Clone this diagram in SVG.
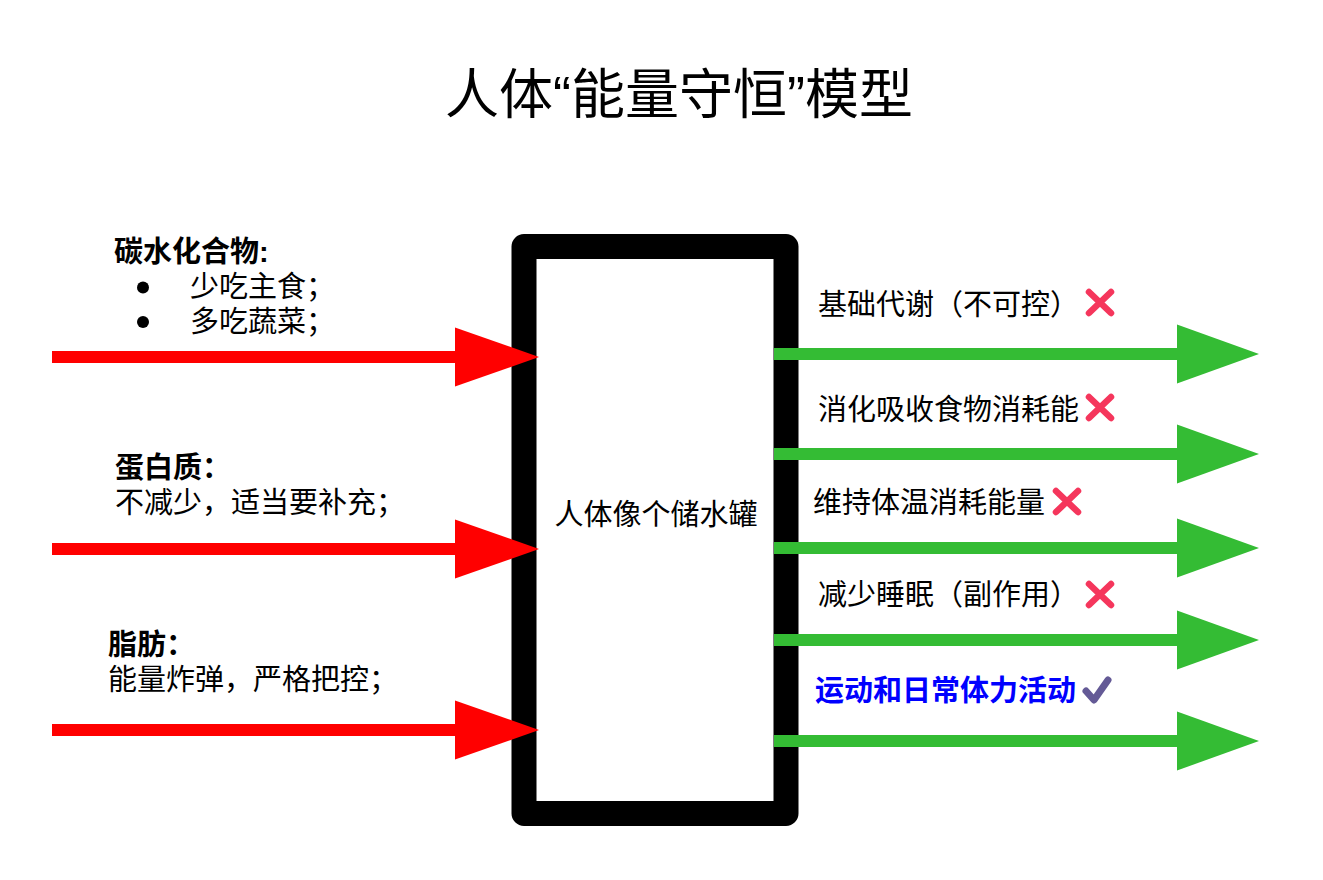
<svg xmlns="http://www.w3.org/2000/svg" width="1323" height="880" viewBox="0 0 1323 880">
  <style>
    text { font-family: "Liberation Sans", "Noto Sans CJK SC", sans-serif; fill: #000; }
    .title { font-size: 54px; }
    .body { font-size: 29px; }
    .bold { font-size: 29px; font-weight: bold; }
    .blue { font-size: 29px; font-weight: bold; fill: #0000ff; }
    .in { stroke: #ff0000; stroke-width: 12; fill: none; }
    .out { stroke: #34bc34; stroke-width: 12; fill: none; }
    .cross { stroke: #f5365c; stroke-width: 6.5; stroke-linecap: round; fill: none; }
    .tick { stroke: #645a96; stroke-width: 7; stroke-linecap: round; stroke-linejoin: round; fill: none; }
  </style>
  <defs>
    <marker id="headRed" markerUnits="userSpaceOnUse" markerWidth="86" markerHeight="60" refX="0" refY="30" orient="auto">
      <path d="M0,0.5 L84,30 L0,59.5 z" fill="#ff0000"/>
    </marker>
    <marker id="headGreen" markerUnits="userSpaceOnUse" markerWidth="86" markerHeight="60" refX="0" refY="30" orient="auto">
      <path d="M0,0.5 L82,30 L0,59.5 z" fill="#34bc34"/>
    </marker>
  </defs>
  <rect width="1323" height="880" fill="#ffffff"/>

  <g id="title">
    <text class="title" x="679" y="114" text-anchor="middle">人体“能量守恒”模型</text>
  </g>

  <g id="body-tank">
    <rect x="524" y="246.5" width="262" height="567" fill="#ffffff" stroke="#000000" stroke-width="25" stroke-linejoin="round"/>
    <text class="body" x="656" y="525" text-anchor="middle">人体像个储水罐</text>
  </g>

  <g id="input-carbs">
    <text class="bold" x="114" y="262">碳水化合物:</text>
    <circle cx="143" cy="287.5" r="6"/>
    <text class="body" x="190" y="297">少吃主食；</text>
    <circle cx="143" cy="322" r="6"/>
    <text class="body" x="190" y="332">多吃蔬菜；</text>
  </g>

  <g id="input-protein">
    <text class="bold" x="115" y="478">蛋白质：</text>
    <text class="body" x="115" y="513">不减少，适当要补充；</text>
  </g>

  <g id="input-fat">
    <text class="bold" x="108" y="655">脂肪：</text>
    <text class="body" x="108" y="690">能量炸弹，严格把控；</text>
  </g>

  <g id="out-bmr">
    <text class="body" x="818" y="315">基础代谢（不可控）</text>
    <path class="cross" d="M1089,292 L1111,313 M1111,292 L1089,313"/>
  </g>
  <g id="out-digest">
    <text class="body" x="818" y="420">消化吸收食物消耗能</text>
    <path class="cross" d="M1089,397 L1111,418 M1111,397 L1089,418"/>
  </g>
  <g id="out-temp">
    <text class="body" x="813" y="513">维持体温消耗能量</text>
    <path class="cross" d="M1056,491 L1078,512 M1078,491 L1056,512"/>
  </g>
  <g id="out-sleep">
    <text class="body" x="818" y="605">减少睡眠（副作用）</text>
    <path class="cross" d="M1089,584 L1111,605 M1111,584 L1089,605"/>
  </g>
  <g id="out-exercise">
    <text class="blue" x="815" y="701">运动和日常体力活动</text>
    <path class="tick" d="M1086,691 L1094,700 L1108,680"/>
  </g>

  <g id="connectors">
    <line class="in" x1="52" y1="357" x2="455" y2="357" marker-end="url(#headRed)"/>
    <line class="in" x1="52" y1="549" x2="455" y2="549" marker-end="url(#headRed)"/>
    <line class="in" x1="52" y1="730" x2="455" y2="730" marker-end="url(#headRed)"/>
    <line class="out" x1="774" y1="354" x2="1177" y2="354" marker-end="url(#headGreen)"/>
    <line class="out" x1="774" y1="454" x2="1177" y2="454" marker-end="url(#headGreen)"/>
    <line class="out" x1="774" y1="548" x2="1177" y2="548" marker-end="url(#headGreen)"/>
    <line class="out" x1="774" y1="640" x2="1177" y2="640" marker-end="url(#headGreen)"/>
    <line class="out" x1="774" y1="741" x2="1177" y2="741" marker-end="url(#headGreen)"/>
  </g>
</svg>
